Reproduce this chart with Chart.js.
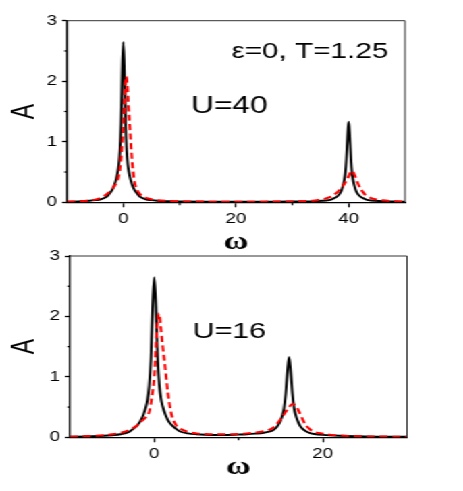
<!DOCTYPE html>
<html><head><meta charset="utf-8">
<script src="https://cdn.jsdelivr.net/npm/chart.js@4.4.1/dist/chart.umd.min.js"></script>
<style>
html,body{margin:0;padding:0;background:#fff;overflow:hidden;}
#wrap{position:absolute;left:0;top:0;width:343px;height:491px;transform:scaleX(1.35);transform-origin:0 0;}
#c1{position:absolute;left:0;top:0;width:343px;height:255px;}
#c2{position:absolute;left:0;top:240px;width:343px;height:251px;}
</style></head><body>
<div id="wrap"><canvas id="c1" width="343" height="255"></canvas><canvas id="c2" width="343" height="251"></canvas></div>
<script>
// ---- Data ----
// Top panel, U=40
const omegaTopBlack = [-10,-8,-6,-5,-4,-3,-2.5,-2,-1.6,-1.3,-1,-0.8,-0.6,-0.4,-0.2,0,0.2,0.4,0.6,0.8,1,1.3,1.6,2,2.5,3,4,5,6,8,10,15,20,25,30,32,34,36,37,37.5,38,38.4,38.7,39,39.2,39.4,39.6,39.8,40,40.2,40.4,40.6,40.8,41,41.3,41.6,42,42.5,43,44,46,48,50];
const aTopBlack = [0.01,0.015,0.025,0.035,0.05,0.09,0.14,0.2,0.28,0.37,0.5,0.62,0.85,1.3,2.15,2.65,2.15,1.3,0.85,0.62,0.5,0.37,0.28,0.2,0.14,0.09,0.05,0.035,0.025,0.018,0.014,0.01,0.009,0.01,0.012,0.015,0.02,0.03,0.05,0.07,0.1,0.14,0.19,0.28,0.36,0.48,0.72,1.08,1.33,1.08,0.72,0.48,0.36,0.28,0.19,0.14,0.1,0.07,0.05,0.03,0.02,0.014,0.01];
const omegaTopRed = [-10,-8,-6,-5,-4,-3,-2,-1.5,-1,-0.6,-0.3,0,0.2,0.4,0.5,0.7,0.9,1.2,1.5,1.95,2.5,3,4,5,6,8,10,15,20,25,30,32,34,35,36,37,38,38.5,39,39.5,40,40.3,40.5,40.8,41.2,41.7,42.3,43,44,45,46,48,50];
const aTopRed = [0.01,0.015,0.03,0.045,0.075,0.13,0.22,0.28,0.36,0.55,0.85,1.25,1.65,2.0,2.08,1.95,1.6,1.19,0.75,0.36,0.2,0.13,0.075,0.05,0.035,0.022,0.016,0.011,0.01,0.011,0.014,0.018,0.03,0.045,0.065,0.1,0.17,0.22,0.27,0.34,0.43,0.49,0.52,0.5,0.42,0.3,0.2,0.12,0.07,0.045,0.032,0.018,0.012];
// Bottom panel, U=16
const omegaBotBlack = [-10,-8,-6,-5,-4,-3,-2.5,-2,-1.6,-1.3,-1,-0.8,-0.6,-0.4,-0.2,0,0.2,0.4,0.6,0.8,1,1.3,1.6,2,2.5,3,4,5,6,8,10,11,12,13,13.5,14,14.4,14.7,15,15.2,15.4,15.6,15.8,16,16.2,16.4,16.6,16.8,17,17.3,17.6,18,18.5,19,20,22,25,30];
const aBotBlack = [0.01,0.015,0.025,0.035,0.05,0.09,0.14,0.2,0.28,0.37,0.5,0.62,0.85,1.3,2.15,2.65,2.15,1.3,0.86,0.63,0.51,0.38,0.29,0.21,0.15,0.1,0.065,0.05,0.042,0.038,0.045,0.05,0.06,0.075,0.09,0.11,0.15,0.2,0.28,0.36,0.48,0.72,1.08,1.33,1.08,0.72,0.48,0.36,0.28,0.19,0.14,0.1,0.07,0.055,0.04,0.025,0.015,0.01];
const omegaBotRed = [-10,-8,-6,-5,-4,-3,-2,-1.5,-1,-0.6,-0.3,0,0.2,0.4,0.55,0.75,1,1.27,1.6,2.06,2.5,3,4,5,6,8,10,11,12,13,14,14.4,15,15.5,16,16.4,16.8,17.2,17.6,18,18.5,19,20,21,22,25,30];
const aBotRed = [0.01,0.02,0.035,0.05,0.075,0.12,0.2,0.27,0.33,0.42,0.65,1.0,1.5,1.95,2.05,1.85,1.5,1.19,0.75,0.37,0.22,0.15,0.09,0.065,0.055,0.05,0.055,0.065,0.08,0.1,0.15,0.2,0.3,0.4,0.5,0.55,0.52,0.42,0.3,0.2,0.13,0.09,0.06,0.04,0.03,0.015,0.01];
// Axis ranges and tick labels
const topRange = [-10, 50];
const botRange = [-10, 30];
const topXLabels = [0, 20, 40];
const botXLabels = [0, 20];
const yLabels = [0, 1, 2, 3];
const topXMinor = [10, 30];
const botXMinor = [10];
const yMinor = [0.5, 1.5, 2.5];
// Texts
const topNotes = ['ε=0, T=1.25', 'U=40'];
const botNotes = ['U=16'];
const xTitle = 'ω';
const yTitle = 'A';

const SANS = '"Liberation Sans", Arial, Helvetica, sans-serif';
const SERIF = '"Liberation Serif", "Times New Roman", serif';

function pts(xs, ys){ return xs.map((x,i)=>({x:x, y:ys[i]})); }

const framePlugin = {
  id: 'frame',
  afterDraw(chart, args, opts) {
    const {ctx, chartArea: a, scales} = chart;
    ctx.save();
    ctx.strokeStyle = '#333'; ctx.lineWidth = 1;
    ctx.beginPath();
    ctx.moveTo(a.left, a.top); ctx.lineTo(a.right, a.top); ctx.lineTo(a.right, a.bottom);
    ctx.stroke();
    ctx.strokeStyle = '#000'; ctx.lineWidth = 1.2;
    opts.xMinor.forEach(v => {
      const px = scales.x.getPixelForValue(v);
      ctx.beginPath(); ctx.moveTo(px, a.bottom); ctx.lineTo(px, a.bottom + 3); ctx.stroke();
    });
    opts.yMinor.forEach(v => {
      const py = scales.y.getPixelForValue(v);
      ctx.beginPath(); ctx.moveTo(a.left, py); ctx.lineTo(a.left - 2, py); ctx.stroke();
    });
    ctx.fillStyle = '#000'; ctx.textAlign = 'left'; ctx.textBaseline = 'alphabetic';
    opts.notes.forEach(n => {
      ctx.font = n.size + 'px ' + SANS;
      ctx.fillText(n.text, scales.x.getPixelForValue(n.x), scales.y.getPixelForValue(n.y));
    });
    ctx.restore();
  }
};

function makeChart(id, blackX, blackY, redX, redY, range, xLabels, xMinor, dims, notes) {
  return new Chart(document.getElementById(id), {
    type: 'line',
    data: {
      datasets: [
        { data: pts(redX, redY), borderColor: '#ff0000', borderWidth: 2, borderDash: [6, 3.5],
          pointRadius: 0, cubicInterpolationMode: 'monotone', fill: false, order: 0 },
        { data: pts(blackX, blackY), borderColor: '#000000', borderWidth: 1.9,
          pointRadius: 0, cubicInterpolationMode: 'monotone', fill: false, order: 1 }
      ]
    },
    options: {
      responsive: false, animation: false,
      layout: { padding: { top: dims.top, right: dims.right, left: 0, bottom: 0 } },
      plugins: { legend: { display: false }, tooltip: { enabled: false },
                 frame: { xMinor: xMinor, yMinor: yMinor, notes: notes } },
      scales: {
        x: {
          type: 'linear', min: range[0], max: range[1],
          afterFit: s => { s.height = dims.xh; },
          ticks: { stepSize: 10, autoSkip: false, maxRotation: 0, padding: 3.4, color: '#000',
                   font: { family: SANS, size: 14 },
                   callback: v => xLabels.includes(v) ? String(v) : '' },
          grid: { drawOnChartArea: false, tickLength: 5, tickWidth: 1.2,
                  tickColor: c => (c.tick && xLabels.includes(c.tick.value)) ? '#000' : 'rgba(0,0,0,0)' },
          border: { display: true, color: '#000', width: 1.3 },
          title: { display: true, text: xTitle, color: '#000',
                   font: { family: SERIF, size: 25, weight: 'bold', lineHeight: 1 },
                   padding: { top: 0, bottom: dims.xtPad } }
        },
        y: {
          min: 0, max: 3,
          afterFit: s => { s.width = dims.yw; },
          ticks: { stepSize: 0.5, autoSkip: false, padding: 3.7, color: '#000',
                   font: { family: SANS, size: 14 },
                   callback: v => yLabels.includes(v) ? String(v) : '' },
          grid: { drawOnChartArea: false, tickLength: 3.7, tickWidth: 1.3,
                  tickColor: c => (c.tick && yLabels.includes(c.tick.value)) ? '#000' : 'rgba(0,0,0,0)' },
          border: { display: true, color: '#000', width: 1.3 },
          title: { display: true, text: yTitle, color: '#000',
                   font: { family: SANS, size: 23, lineHeight: 1.2 },
                   padding: { top: 4.8, bottom: 0 } }
        }
      }
    },
    plugins: [framePlugin]
  });
}

makeChart('c1', omegaTopBlack, aTopBlack, omegaTopRed, aTopRed, topRange, topXLabels, topXMinor,
  { top: 20.7, right: 43, xh: 52.7, yw: 49.6, xtPad: 0 },
  [ { text: topNotes[0], x: 19.2, y: 2.38, size: 22 },
    { text: topNotes[1], x: 12.0, y: 1.47, size: 23.5 } ]);

makeChart('c2', omegaBotBlack, aBotBlack, omegaBotRed, aBotRed, botRange, botXLabels, botXMinor,
  { top: 16, right: 41.5, xh: 53.7, yw: 51.85, xtPad: 10.8 },
  [ { text: botNotes[0], x: 4.56, y: 1.65, size: 22.5 } ]);
</script>
</body></html>
